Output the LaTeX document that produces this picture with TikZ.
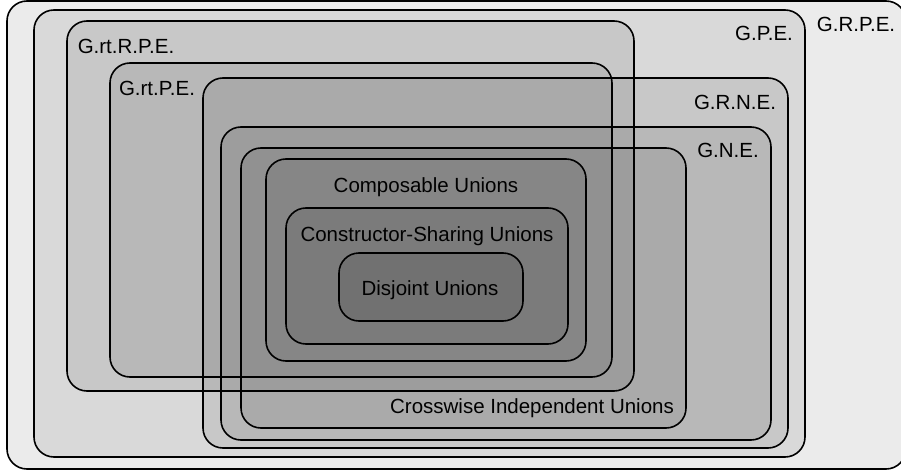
\documentclass[tikz,border=0pt]{standalone}
\usepackage{fontspec}
\setmainfont{Liberation Sans}
\usetikzlibrary{positioning}

\begin{document}
\begin{tikzpicture}[x=1pt,y=-1pt,
      set/.style={draw,line width=1.6pt,rounded corners=20pt,fill=black,fill opacity=0.08},
      lbl/.style={inner sep=0pt,font=\fontsize{20.5}{24}\selectfont}]
    \useasboundingbox (0,0) rectangle (901,473);
    % nested sets, outermost first
    \draw[set] (7,1) rectangle (906,469);      % G.R.P.E.
    \draw[set] (34,10) rectangle (805,457);    % G.P.E.
    \draw[set] (67,21) rectangle (634,391);    % G.rt.R.P.E.
    \draw[set] (110,63) rectangle (612,377);   % G.rt.P.E.
    \draw[set] (203,78) rectangle (788,448);   % G.R.N.E.
    \draw[set] (221,127) rectangle (771,440);  % G.N.E.
    \draw[set] (241,148) rectangle (686,428);  % crosswise
    \draw[set] (266,159) rectangle (586,361);  % composable
    \draw[set] (286,208) rectangle (568,344);  % constructor-sharing
    \draw[set] (339,253) rectangle (523,321);  % disjoint
    % labels
    \node[lbl,anchor=base] (grpe) at (856,32) {G.R.P.E.};
    \node[lbl,anchor=base] (gpe) at (764,41) {G.P.E.};
    \node[lbl,anchor=base] (grtrpe) at (126,54) {G.rt.R.P.E.};
    \node[lbl,anchor=base] (grtpe) at (157,96) {G.rt.P.E.};
    \node[lbl,anchor=base] (grne) at (735,110) {G.R.N.E.};
    \node[lbl,anchor=base] (gne) at (728,158) {G.N.E.};
    \node[lbl,anchor=base] (comp) at (426,192) {Composable Unions};
    \node[lbl,anchor=base] (cons) at (427,241) {Constructor-Sharing Unions};
    \node[lbl,anchor=base] (disj) at (430,295) {Disjoint Unions};
    \node[lbl,anchor=base] (cross) at (532,413) {Crosswise Independent Unions};
  \end{tikzpicture}
\end{document}
